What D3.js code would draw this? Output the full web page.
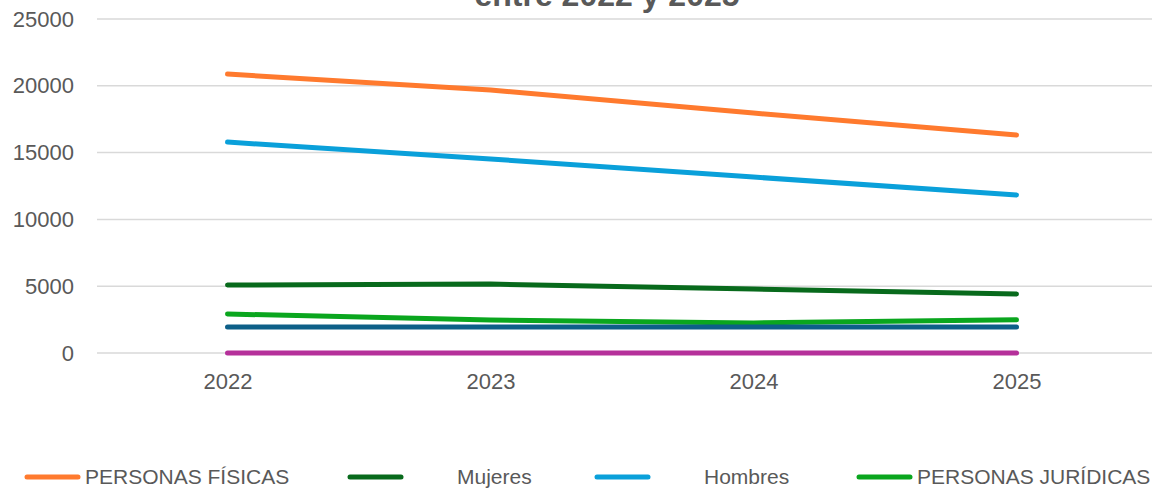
<!DOCTYPE html>
<html>
<head>
<meta charset="utf-8">
<script src="https://cdn.jsdelivr.net/npm/d3@7"></script>
<style>
  html, body { margin: 0; padding: 0; background: #fff; }
  svg { display: block; font-family: "Liberation Sans", Arial, sans-serif; }
</style>
</head>
<body>
<div id="chart"></div>
<script>
const years = ['2022', '2023', '2024', '2025'];
const yTicks = [0, 5000, 10000, 15000, 20000, 25000];

const personasFisicas = [20880, 19690, 17960, 16320];
const mujeres = [5090, 5160, 4790, 4420];
const hombres = [15790, 14520, 13170, 11830];
const personasJuridicas = [2920, 2470, 2250, 2480];
const serie5 = [1950, 1950, 1950, 1950];
const serie6 = [0, 0, 0, 0];

const seriesNames = ['PERSONAS FÍSICAS', 'Mujeres', 'Hombres', 'PERSONAS JURÍDICAS', '', ''];
const seriesColors = ['#FF7A2E', '#086A1C', '#0AA0DA', '#0AA61E', '#0D5F88', '#B5309A'];

const width = 1152;
const height = 488;

const series = [personasFisicas, mujeres, hombres, personasJuridicas, serie5, serie6].map(function (vals, i) {
    return {name: seriesNames[i], color: seriesColors[i], values: vals};
});

const svg = d3.select('#chart').append('svg')
    .attr('width', width)
    .attr('height', height);

const x = d3.scalePoint().domain(years).range([96, 1148]).padding(0.5);
const y = d3.scaleLinear().domain([0, 25000]).range([353, 19]);

// titulo (la primera linea queda fuera del lienzo, como en el original)
svg.append('text')
    .attr('x', 607)
    .attr('y', 6)
    .attr('text-anchor', 'middle')
    .attr('fill', '#595959')
    .style('font-size', '32px')
    .style('font-weight', 'bold')
    .text('entre 2022 y 2025');

// rejilla
svg.append('g').selectAll('line')
    .data(yTicks)
    .enter()
    .append('line')
    .attr('x1', 97)
    .attr('x2', width)
    .attr('y1', function (d) { return y(d); })
    .attr('y2', function (d) { return y(d); })
    .attr('stroke', '#d9d9d9')
    .attr('stroke-width', 1.5);

// eje y
const yAxis = svg.append('g')
    .attr('transform', 'translate(74,0)')
    .call(d3.axisLeft(y).tickValues(yTicks).tickSize(0).tickPadding(0).tickFormat(d3.format('d')));
yAxis.select('.domain').remove();
yAxis.selectAll('text')
    .attr('fill', '#595959')
    .style('font-size', '22px')
    .style('font-family', '"Liberation Sans", Arial, sans-serif');

// eje x
const xAxis = svg.append('g')
    .attr('transform', 'translate(0,367)')
    .call(d3.axisBottom(x).tickSize(0).tickPadding(0));
xAxis.select('.domain').remove();
xAxis.selectAll('text')
    .attr('dy', '1em')
    .attr('fill', '#595959')
    .style('font-size', '22px')
    .style('font-family', '"Liberation Sans", Arial, sans-serif');

// lineas
const line = d3.line()
    .x(function (d, i) { return x(years[i]); })
    .y(function (d) { return y(d); });

svg.append('g').selectAll('path')
    .data(series)
    .enter()
    .append('path')
    .attr('d', function (s) { return line(s.values); })
    .attr('fill', 'none')
    .attr('stroke', function (s) { return s.color; })
    .attr('stroke-width', 5)
    .attr('stroke-linecap', 'round')
    .attr('stroke-linejoin', 'round');

// leyenda
const legendLineX = [25, 348, 595, 857];
const legendTextX = [85, 457, 704, 917];
const legend = svg.append('g').selectAll('g')
    .data(series.slice(0, 4))
    .enter()
    .append('g');

legend.append('line')
    .attr('x1', function (d, i) { return legendLineX[i] + 2; })
    .attr('x2', function (d, i) { return legendLineX[i] + 53; })
    .attr('y1', 477)
    .attr('y2', 477)
    .attr('stroke', function (d) { return d.color; })
    .attr('stroke-width', 5)
    .attr('stroke-linecap', 'round');

legend.append('text')
    .attr('x', function (d, i) { return legendTextX[i]; })
    .attr('y', 484)
    .attr('fill', '#595959')
    .style('font-size', '21px')
    .text(function (d) { return d.name; });
</script>
</body>
</html>
